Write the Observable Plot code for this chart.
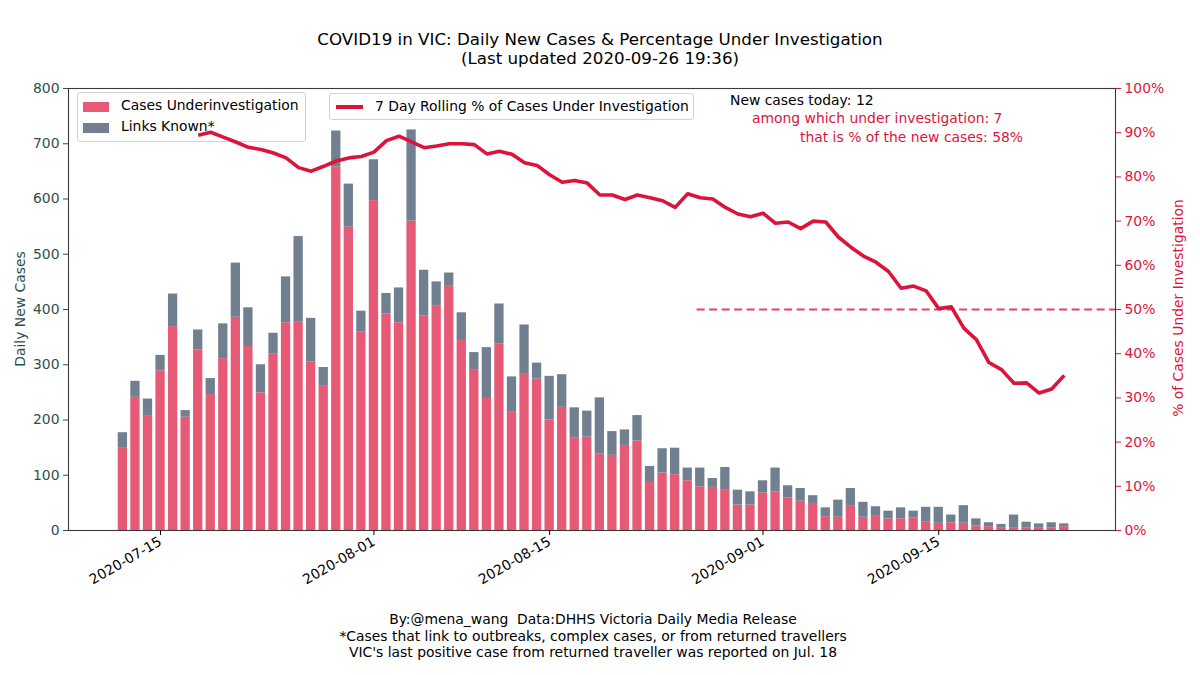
<!DOCTYPE html>
<html>
<head>
<meta charset="utf-8">
<script src="https://cdn.jsdelivr.net/npm/d3@7"></script>
<script src="https://cdn.jsdelivr.net/npm/@observablehq/plot@0.6"></script>
<style>
  html, body { margin: 0; padding: 0; background: #fff; }
  #fig { position: relative; width: 1200px; height: 675px; overflow: hidden; font-family: "DejaVu Sans", sans-serif; color: #000; }
  #title { height: 78px; box-sizing: border-box; padding-top: 30px; text-align: center; font-size: 16.7px; line-height: 19px; }
  #chart { position: relative; z-index: 1; height: 520px; }
  #chart svg { background: transparent !important; display: block; }
  #caption { box-sizing: border-box; padding-top: 13px; width: 1186px; text-align: center; font-size: 13.9px; line-height: 16.5px; }
  .legend { position: absolute; box-sizing: border-box; border: 1px solid #d3d3d3; border-radius: 3px; background: rgba(255,255,255,0.8); font-size: 13.9px; }
  .item { position: absolute; left: 0; white-space: nowrap; }
  .patch { position: absolute; width: 26px; height: 9.5px; }
  .ann { position: absolute; font-size: 13.9px; white-space: nowrap; }
  .ylab { position: absolute; font-size: 13.9px; white-space: nowrap; transform: translate(-50%, -50%) rotate(-90deg); }
</style>
</head>
<body>
<div id="fig">
  <div id="title"></div>
  <div id="legend1" class="legend" style="left:77px; top:92px; width:229px; height:50px; z-index:0;"></div>
  <div id="chart"></div>
  <div id="caption"></div>
  <div id="legend2" class="legend" style="left:329px; top:93px; width:365px; height:27px; z-index:2;"></div>
  <div id="annot"></div>
  <div id="ylabL" class="ylab" style="left:20px; top:309px; color:#2f4f4f; z-index:2;"></div>
  <div id="ylabR" class="ylab" style="left:1178px; top:308px; color:#dc143c; z-index:2;"></div>
</div>
<script>
// ---------------- data ----------------
const dates = [
  "2020-07-12","2020-07-13","2020-07-14","2020-07-15","2020-07-16","2020-07-17","2020-07-18","2020-07-19","2020-07-20","2020-07-21",
  "2020-07-22","2020-07-23","2020-07-24","2020-07-25","2020-07-26","2020-07-27","2020-07-28","2020-07-29","2020-07-30","2020-07-31",
  "2020-08-01","2020-08-02","2020-08-03","2020-08-04","2020-08-05","2020-08-06","2020-08-07","2020-08-08","2020-08-09","2020-08-10",
  "2020-08-11","2020-08-12","2020-08-13","2020-08-14","2020-08-15","2020-08-16","2020-08-17","2020-08-18","2020-08-19","2020-08-20",
  "2020-08-21","2020-08-22","2020-08-23","2020-08-24","2020-08-25","2020-08-26","2020-08-27","2020-08-28","2020-08-29","2020-08-30",
  "2020-08-31","2020-09-01","2020-09-02","2020-09-03","2020-09-04","2020-09-05","2020-09-06","2020-09-07","2020-09-08","2020-09-09",
  "2020-09-10","2020-09-11","2020-09-12","2020-09-13","2020-09-14","2020-09-15","2020-09-16","2020-09-17","2020-09-18","2020-09-19",
  "2020-09-20","2020-09-21","2020-09-22","2020-09-23","2020-09-24","2020-09-25"
];
const totalCases = [
  177,270,238,317,428,217,363,275,374,484,403,300,357,459,532,384,295,
  723,627,397,671,429,439,725,471,450,466,394,322,331,410,278,372,303,
  279,282,222,216,240,179,182,208,116,148,149,113,113,94,114,73,70,90,
  113,81,76,63,41,55,76,51,43,35,41,35,42,42,28,45,21,14,11,28,15,12,14,12
];
const underInvestigation = [
  150,241,208,289,369,205,327,246,311,386,333,249,320,376,378,305,261,
  658,549,359,597,392,376,560,388,407,442,344,290,239,338,214,284,274,
  200,223,168,169,139,136,154,162,87,104,101,90,79,78,74,46,46,68,
  70,59,53,49,25,24,45,24,27,21,21,23,15,13,14,13,8,7,4,4,5,4,5,7
];
// 7-day rolling % of cases under investigation, starting 2020-07-18
const rollingStart = "2020-07-18";
const rollingPct = [
  89.4,90.1,89.0,87.9,86.7,86.2,85.4,84.3,82.1,81.3,
  82.4,83.6,84.3,84.6,85.6,88.2,89.2,87.9,86.6,87.0,
  87.5,87.5,87.3,85.2,85.8,85.1,83.2,82.6,80.5,78.8,
  79.2,78.6,75.9,75.9,74.9,75.9,75.3,74.6,73.1,76.2,
  75.3,75.0,73.1,71.6,71.0,71.8,69.5,69.8,68.3,70.0,
  69.8,66.4,64.1,62.1,60.7,58.6,54.8,55.3,54.2,50.2,
  50.6,45.8,43.2,38.0,36.4,33.3,33.4,31.1,32.0,35.1
];
const xTickDates = ["2020-07-15","2020-08-01","2020-08-15","2020-09-01","2020-09-15"];
const leftTicks = [0,100,200,300,400,500,600,700,800];
const rightTickPct = [0,10,20,30,40,50,60,70,80,90,100];
const threshold = 50;
const thresholdFrom = "2020-08-26T18:00:00Z";

const titleLines = ["COVID19 in VIC: Daily New Cases & Percentage Under Investigation", "(Last updated 2020-09-26 19:36)"];
const captionLines = [
  "By:@mena_wang\u00a0 Data:DHHS Victoria Daily Media Release",
  "*Cases that link to outbreaks, complex cases, or from returned travellers",
  "VIC's last positive case from returned traveller was reported on Jul. 18"
];
const seriesNames = ["Cases Underinvestigation", "Links Known*", "7 Day Rolling % of Cases Under Investigation"];

// ---------------- build ----------------
const COL_INV = "#e65a76", COL_KNOWN = "#708090", COL_LINE = "#dc143c";
const DAY = 864e5;
const parse = s => new Date(s.length === 10 ? s + "T00:00:00Z" : s);
const rows = dates.map((d, i) => ({date: parse(d), total: totalCases[i], inv: underInvestigation[i]}));
const startRoll = parse(rollingStart);
const lineRows = rollingPct.map((p, i) => ({date: new Date(+startRoll + i * DAY), pct: p}));
const scaleMax = 800, pctToY = scaleMax / 100;
const xDomain = [parse("2020-07-07T16:00:00Z"), parse("2020-09-29T02:00:00Z")];
const half = 0.37 * DAY;
const refRows = [{pct: threshold, from: parse(thresholdFrom)}];

const chart = Plot.plot({
  width: 1200, height: 520,
  marginLeft: 68, marginRight: 85, marginTop: 10, marginBottom: 68,
  style: {fontFamily: "DejaVu Sans, sans-serif", fontSize: "13.9px", background: "transparent", overflow: "visible"},
  x: {type: "utc", domain: xDomain},
  y: {domain: [0, scaleMax]},
  marks: [
    Plot.rectY(rows, {x1: d => new Date(+d.date - half), x2: d => new Date(+d.date + half), y1: 0, y2: "inv", fill: COL_INV}),
    Plot.rectY(rows, {x1: d => new Date(+d.date - half), x2: d => new Date(+d.date + half), y1: "inv", y2: "total", fill: COL_KNOWN}),
    Plot.ruleY(refRows, {y: d => d.pct * pctToY, x1: d => d.from, x2: () => xDomain[1], stroke: COL_LINE, strokeOpacity: 0.8, strokeWidth: 2, strokeDasharray: "8,4.5"}),
    Plot.line(lineRows, {x: "date", y: d => d.pct * pctToY, stroke: COL_LINE, strokeWidth: 3.6, strokeLinejoin: "round", strokeLinecap: "butt"}),
    Plot.frame({stroke: "#3a3a3a", strokeWidth: 1.1}),
    Plot.axisX({ticks: xTickDates.map(parse), tickFormat: d3.utcFormat("%Y-%m-%d"), tickRotate: -30, tickSize: 5, tickPadding: 5, label: null, color: "#000"}),
    Plot.axisY({anchor: "left", ticks: leftTicks, tickSize: 5, tickPadding: 4, label: null, color: "#2f4f4f"}),
    Plot.axisY({anchor: "right", ticks: rightTickPct.map(p => p * pctToY), tickFormat: v => Math.round(v / pctToY) + "%", tickSize: 5, tickPadding: 4, label: null, color: COL_LINE})
  ]
});
document.getElementById("chart").appendChild(chart);

document.getElementById("title").innerHTML = titleLines.map(t => `<div>${t}</div>`).join("");
document.getElementById("caption").innerHTML = captionLines.map(t => `<div>${t}</div>`).join("");

const lg1 = document.getElementById("legend1");
lg1.innerHTML = `
  <div class="patch" style="left:5px; top:9px; background:${COL_INV}"></div>
  <div class="item" style="left:43px; top:4px;">${seriesNames[0]}</div>
  <div class="patch" style="left:5px; top:30px; background:${COL_KNOWN}"></div>
  <div class="item" style="left:43px; top:25px;">${seriesNames[1]}</div>`;
const lg2 = document.getElementById("legend2");
lg2.innerHTML = `
  <div style="position:absolute; left:6px; top:11px; width:27px; height:3.6px; background:${COL_LINE}"></div>
  <div class="item" style="left:45px; top:4px;">${seriesNames[2]}</div>`;

const last = rows[rows.length - 1];
const pctToday = Math.round(last.inv / last.total * 100);
document.getElementById("annot").innerHTML = `
  <div class="ann" style="left:730px; top:92px; color:#000;">New cases today: ${last.total}</div>
  <div class="ann" style="left:752px; top:110px; color:${COL_LINE};">among which under investigation: ${last.inv}</div>
  <div class="ann" style="left:800px; top:129px; color:${COL_LINE};">that is % of the new cases: ${pctToday}%</div>`;
document.getElementById("annot").style.cssText = "position:absolute; left:0; top:0; z-index:2;";
document.getElementById("ylabL").textContent = "Daily New Cases";
document.getElementById("ylabR").textContent = "% of Cases Under Investigation";
</script>
</body>
</html>
